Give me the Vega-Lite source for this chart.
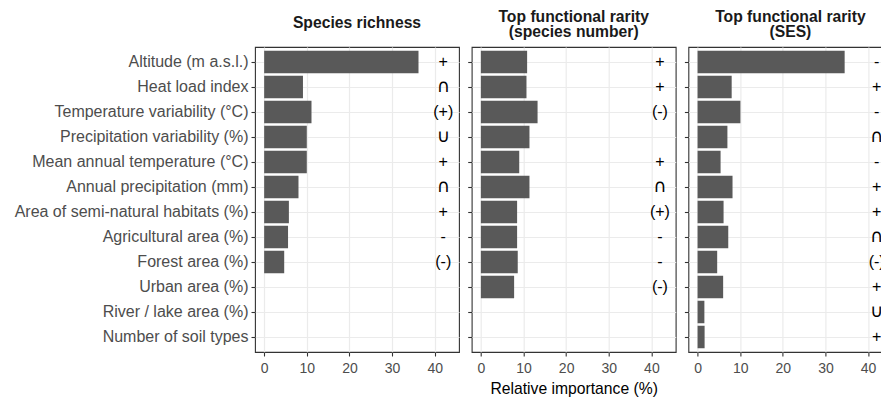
{
  "$schema": "https://vega.github.io/schema/vega-lite/v6.json",
  "padding": {"left": 13, "top": 8, "right": 0, "bottom": 5},
  "background": "white",
  "datasets": {
    "d": [
      {"p": 1, "var": "Altitude (m a.s.l.)", "v": 36.2, "s": "+"},
      {"p": 1, "var": "Heat load index", "v": 9.1, "s": "∩"},
      {"p": 1, "var": "Temperature variability (°C)", "v": 11.1, "s": "(+)"},
      {"p": 1, "var": "Precipitation variability (%)", "v": 10.0, "s": "∪"},
      {"p": 1, "var": "Mean annual temperature (°C)", "v": 10.0, "s": "+"},
      {"p": 1, "var": "Annual precipitation (mm)", "v": 8.05, "s": "∩"},
      {"p": 1, "var": "Area of semi-natural habitats (%)", "v": 5.8, "s": "+"},
      {"p": 1, "var": "Agricultural area (%)", "v": 5.6, "s": "-"},
      {"p": 1, "var": "Forest area (%)", "v": 4.7, "s": "(-)"},
      {"p": 2, "var": "Altitude (m a.s.l.)", "v": 10.85, "s": "+"},
      {"p": 2, "var": "Heat load index", "v": 10.7, "s": "+"},
      {"p": 2, "var": "Temperature variability (°C)", "v": 13.3, "s": "(-)"},
      {"p": 2, "var": "Precipitation variability (%)", "v": 11.4, "s": ""},
      {"p": 2, "var": "Mean annual temperature (°C)", "v": 9.0, "s": "+"},
      {"p": 2, "var": "Annual precipitation (mm)", "v": 11.4, "s": "∩"},
      {"p": 2, "var": "Area of semi-natural habitats (%)", "v": 8.5, "s": "(+)"},
      {"p": 2, "var": "Agricultural area (%)", "v": 8.5, "s": "-"},
      {"p": 2, "var": "Forest area (%)", "v": 8.65, "s": "-"},
      {"p": 2, "var": "Urban area (%)", "v": 7.8, "s": "(-)"},
      {"p": 3, "var": "Altitude (m a.s.l.)", "v": 34.5, "s": "-"},
      {"p": 3, "var": "Heat load index", "v": 8.0, "s": "+"},
      {"p": 3, "var": "Temperature variability (°C)", "v": 10.05, "s": "-"},
      {"p": 3, "var": "Precipitation variability (%)", "v": 7.0, "s": "∩"},
      {"p": 3, "var": "Mean annual temperature (°C)", "v": 5.4, "s": "-"},
      {"p": 3, "var": "Annual precipitation (mm)", "v": 8.2, "s": "+"},
      {"p": 3, "var": "Area of semi-natural habitats (%)", "v": 6.1, "s": "+"},
      {"p": 3, "var": "Agricultural area (%)", "v": 7.2, "s": "∩"},
      {"p": 3, "var": "Forest area (%)", "v": 4.6, "s": "(-)"},
      {"p": 3, "var": "Urban area (%)", "v": 6.0, "s": "+"},
      {"p": 3, "var": "River / lake area (%)", "v": 1.6, "s": "∪"},
      {"p": 3, "var": "Number of soil types", "v": 1.65, "s": "+"}
    ]
  },
  "data": {"name": "d"},
  "bounds": "flush",
  "spacing": 12.7,
  "hconcat": [
    {
      "width": 204, "height": 305,
      "transform": [{"filter": "datum.p == 1"}],
      "title": {"text": "Species richness", "offset": 15, "frame": "group", "anchor": "middle", "fontSize": 15.7, "fontWeight": "bold", "color": "#1a1a1a", "font": "Liberation Sans"},
      "layer": [
        {
          "mark": {"type": "bar", "color": "#595959"},
          "encoding": {
            "y": {"field": "var", "type": "nominal", "title": null,
                  "scale": {"domain": ["Altitude (m a.s.l.)", "Heat load index", "Temperature variability (°C)", "Precipitation variability (%)", "Mean annual temperature (°C)", "Annual precipitation (mm)", "Area of semi-natural habitats (%)", "Agricultural area (%)", "Forest area (%)", "Urban area (%)", "River / lake area (%)", "Number of soil types"], "paddingInner": 0.1, "paddingOuter": 0.15}},
            "x": {"field": "v", "type": "quantitative", "title": null,
                  "scale": {"domain": [-2.15, 45.7], "nice": false, "zero": false},
                  "axis": {"values": [0, 10, 20, 30, 40]}}
          }
        },
        {
          "transform": [{"filter": "datum.s != '∩' && datum.s != '∪'"}],
          "mark": {"type": "text", "fontSize": 16, "color": "#000000", "font": "Liberation Sans"},
          "encoding": {
            "y": {"field": "var", "type": "nominal"},
            "x": {"datum": 42, "type": "quantitative"},
            "text": {"field": "s"}
          }
        },
        {
          "transform": [{"filter": "datum.s == '∩' || datum.s == '∪'"}],
          "mark": {"type": "text", "fontSize": 18, "color": "#000000", "font": "DejaVu Sans"},
          "encoding": {
            "y": {"field": "var", "type": "nominal"},
            "x": {"datum": 42, "type": "quantitative"},
            "text": {"field": "s"}
          }
        }
      ]
    },
    {
      "width": 204, "height": 305,
      "transform": [{"filter": "datum.p == 2"}],
      "title": {"text": ["Top functional rarity", "(species number)"], "offset": 6, "lineHeight": 15.5, "frame": "group", "anchor": "middle", "fontSize": 15.7, "fontWeight": "bold", "color": "#1a1a1a", "font": "Liberation Sans"},
      "layer": [
        {
          "mark": {"type": "bar", "color": "#595959"},
          "encoding": {
            "y": {"field": "var", "type": "nominal", "title": null,
                  "scale": {"domain": ["Altitude (m a.s.l.)", "Heat load index", "Temperature variability (°C)", "Precipitation variability (%)", "Mean annual temperature (°C)", "Annual precipitation (mm)", "Area of semi-natural habitats (%)", "Agricultural area (%)", "Forest area (%)", "Urban area (%)", "River / lake area (%)", "Number of soil types"], "paddingInner": 0.1, "paddingOuter": 0.15},
                  "axis": {"labels": false}},
            "x": {"field": "v", "type": "quantitative", "title": "Relative importance (%)",
                  "scale": {"domain": [-2.15, 45.7], "nice": false, "zero": false},
                  "axis": {"values": [0, 10, 20, 30, 40]}}
          }
        },
        {
          "transform": [{"filter": "datum.s != '∩' && datum.s != '∪'"}],
          "mark": {"type": "text", "fontSize": 16, "color": "#000000", "font": "Liberation Sans"},
          "encoding": {
            "y": {"field": "var", "type": "nominal"},
            "x": {"datum": 42, "type": "quantitative"},
            "text": {"field": "s"}
          }
        },
        {
          "transform": [{"filter": "datum.s == '∩' || datum.s == '∪'"}],
          "mark": {"type": "text", "fontSize": 18, "color": "#000000", "font": "DejaVu Sans"},
          "encoding": {
            "y": {"field": "var", "type": "nominal"},
            "x": {"datum": 42, "type": "quantitative"},
            "text": {"field": "s"}
          }
        }
      ]
    },
    {
      "width": 204, "height": 305,
      "transform": [{"filter": "datum.p == 3"}],
      "title": {"text": ["Top functional rarity", "(SES)"], "offset": 6, "lineHeight": 15.5, "frame": "group", "anchor": "middle", "fontSize": 15.7, "fontWeight": "bold", "color": "#1a1a1a", "font": "Liberation Sans"},
      "layer": [
        {
          "mark": {"type": "bar", "color": "#595959"},
          "encoding": {
            "y": {"field": "var", "type": "nominal", "title": null,
                  "scale": {"domain": ["Altitude (m a.s.l.)", "Heat load index", "Temperature variability (°C)", "Precipitation variability (%)", "Mean annual temperature (°C)", "Annual precipitation (mm)", "Area of semi-natural habitats (%)", "Agricultural area (%)", "Forest area (%)", "Urban area (%)", "River / lake area (%)", "Number of soil types"], "paddingInner": 0.1, "paddingOuter": 0.15},
                  "axis": {"labels": false}},
            "x": {"field": "v", "type": "quantitative", "title": null,
                  "scale": {"domain": [-2.15, 45.7], "nice": false, "zero": false},
                  "axis": {"values": [0, 10, 20, 30, 40]}}
          }
        },
        {
          "transform": [{"filter": "datum.s != '∩' && datum.s != '∪'"}],
          "mark": {"type": "text", "fontSize": 16, "color": "#000000", "font": "Liberation Sans"},
          "encoding": {
            "y": {"field": "var", "type": "nominal"},
            "x": {"datum": 42, "type": "quantitative"},
            "text": {"field": "s"}
          }
        },
        {
          "transform": [{"filter": "datum.s == '∩' || datum.s == '∪'"}],
          "mark": {"type": "text", "fontSize": 18, "color": "#000000", "font": "DejaVu Sans"},
          "encoding": {
            "y": {"field": "var", "type": "nominal"},
            "x": {"datum": 42, "type": "quantitative"},
            "text": {"field": "s"}
          }
        }
      ]
    }
  ],
  "config": {
    "font": "Liberation Sans",
    "view": {"stroke": "#333333", "strokeWidth": 1.1},
    "axis": {"domain": false, "grid": true, "gridColor": "#ebebeb", "gridWidth": 1.2, "tickColor": "#333333", "tickSize": 4, "tickWidth": 1.1, "labelColor": "#4d4d4d", "labelFont": "Liberation Sans", "titleFont": "Liberation Sans", "titleFontWeight": "normal", "titleColor": "#000000"},
    "axisX": {"labelFontSize": 14, "labelPadding": 5, "titleFontSize": 15.7, "titlePadding": 6},
    "axisY": {"labelFontSize": 16, "labelPadding": 3, "labelLimit": 0}
  }
}
